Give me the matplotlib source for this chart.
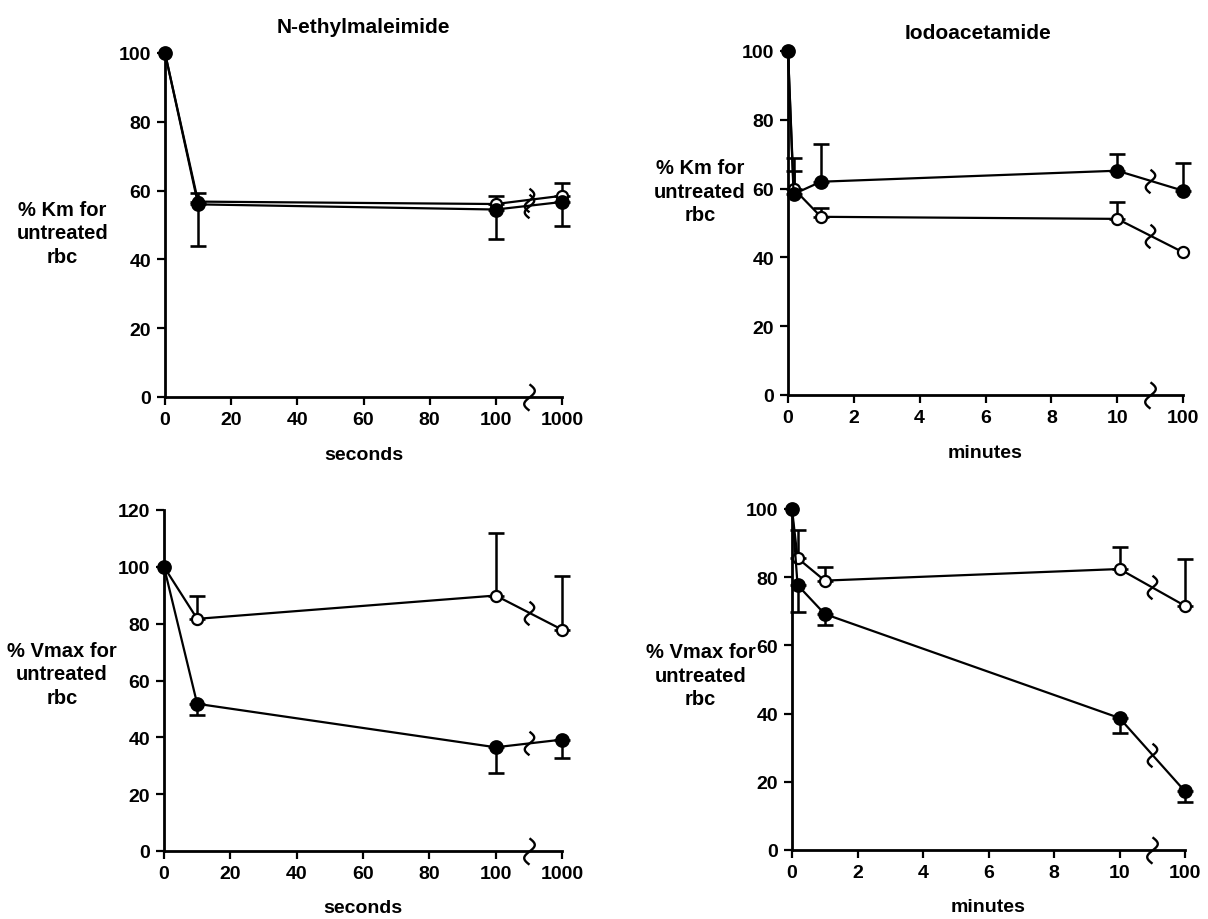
import numpy as np
import matplotlib
matplotlib.use("Agg")
import matplotlib.pyplot as plt
from matplotlib.path import Path

plt.rcParams['font.family'] = ['Liberation Sans', 'DejaVu Sans']
plt.rcParams['font.weight'] = 'bold'

# time points in real units; the last one sits past an axis break
sec_time = [0, 10, 100, 1000]
min_time = [0, 0.17, 1, 10, 100]

# N-ethylmaleimide, % Km (closed error bars go down, open go up)
nem_km_closed = [100, 56.0, 54.5, 56.7]
nem_km_closed_err = [0, 12.0, 8.5, 7.0]
nem_km_open = [100, 56.8, 56.1, 58.5]
nem_km_open_err = [0, 2.5, 2.3, 3.7]

# Iodoacetamide, % Km (both error bars go up)
ia_km_closed = [100, 58.4, 62.0, 65.2, 59.4]
ia_km_closed_err = [0, 6.6, 11.0, 4.8, 8.1]
ia_km_open = [100, 60.0, 51.8, 51.2, 41.5]
ia_km_open_err = [0, 9.0, 2.6, 5.0, 0]

# N-ethylmaleimide, % Vmax
nem_vm_closed = [100, 51.8, 36.5, 39.2]
nem_vm_closed_err = [0, 3.8, 9.2, 6.6]
nem_vm_open = [100, 81.7, 89.9, 77.9]
nem_vm_open_err = [0, 8.2, 21.9, 18.8]

# Iodoacetamide, % Vmax
ia_vm_closed = [100, 77.7, 69.2, 38.7, 17.2]
ia_vm_closed_err = [0, 8.0, 3.1, 4.4, 3.2]
ia_vm_open = [100, 85.6, 79.0, 82.4, 71.6]
ia_vm_open_err = [0, 8.1, 3.9, 6.4, 13.7]

sec_ticks = [0, 20, 40, 60, 80, 100, 120]
sec_ticklabels = ['0', '20', '40', '60', '80', '100', '1000']
min_ticks = [0, 2, 4, 6, 8, 10, 12]
min_ticklabels = ['0', '2', '4', '6', '8', '10', '100']

# squiggle used for the axis break marks
t = np.linspace(-1, 1, 40)
squig = Path(np.column_stack([0.4 * np.sin(np.pi * t), t]))


def to_pos(times, cut, last_pos):
    # put everything past the break at the last tick position
    return [x if x <= cut else last_pos for x in times]


def draw_series(ax, x, y, err, up, filled, brk_x):
    y = np.asarray(y, float)
    err = np.asarray(err, float)
    x = np.asarray(x, float)
    m = err > 0
    if up:
        yerr = [np.zeros(m.sum()), err[m]]
    else:
        yerr = [err[m], np.zeros(m.sum())]
    ax.errorbar(x[m], y[m], yerr=yerr, fmt='none', ecolor='black',
                elinewidth=1.8, capsize=5.5, capthick=1.9, clip_on=False, zorder=2)
    ax.plot(x, y, '-o', color='black', lw=1.6, ms=9 if filled else 8,
            mfc='black' if filled else 'white', mec='black', mew=1.6,
            clip_on=False, zorder=3)
    # break mark on the last segment
    by = np.interp(brk_x, x[-2:], y[-2:])
    ax.plot([brk_x], [by], marker=squig, ms=17, mfc='none', mec='black',
            mew=1.7, ls='none', clip_on=False, zorder=4)


fig = plt.figure(figsize=(12.08, 9.2), dpi=100)
W, H = 1208, 920


def make_ax(x0, x1, y0, y1):
    return fig.add_axes([x0 / W, 1 - y0 / H, (x1 - x0) / W, (y0 - y1) / H])


panels = [
    dict(box=(165, 562, 398, 54), x=to_pos(sec_time, 100, 120), brk=110,
         ticks=sec_ticks, labels=sec_ticklabels, ymax=100,
         closed=(nem_km_closed, nem_km_closed_err, False),
         opened=(nem_km_open, nem_km_open_err, True),
         xlabel='seconds', ylabel='% Km for\nuntreated\nrbc', ylab=(-0.258, 0.478),
         title='N-ethylmaleimide', tpos=(0.5, 1.078)),
    dict(box=(788, 1183, 396, 52), x=to_pos(min_time, 10, 12), brk=11,
         ticks=min_ticks, labels=min_ticklabels, ymax=100,
         closed=(ia_km_closed, ia_km_closed_err, True),
         opened=(ia_km_open, ia_km_open_err, True),
         xlabel='minutes', ylabel='% Km for\nuntreated\nrbc', ylab=(-0.223, 0.593),
         title='Iodoacetamide', tpos=(0.48, 1.055)),
    dict(box=(164, 562, 852, 511), x=to_pos(sec_time, 100, 120), brk=110,
         ticks=sec_ticks, labels=sec_ticklabels, ymax=120,
         closed=(nem_vm_closed, nem_vm_closed_err, False),
         opened=(nem_vm_open, nem_vm_open_err, True),
         xlabel='seconds', ylabel='% Vmax for\nuntreated\nrbc', ylab=(-0.256, 0.52),
         title=None, tpos=None),
    dict(box=(792, 1185, 851, 510), x=to_pos(min_time, 10, 12), brk=11,
         ticks=min_ticks, labels=min_ticklabels, ymax=100,
         closed=(ia_vm_closed, ia_vm_closed_err, False),
         opened=(ia_vm_open, ia_vm_open_err, True),
         xlabel='minutes', ylabel='% Vmax for\nuntreated\nrbc', ylab=(-0.233, 0.513),
         title=None, tpos=None),
]

for p in panels:
    ax = make_ax(*p['box'])
    xmax = p['ticks'][-1]
    ax.set_xlim(0, xmax)
    ax.set_ylim(0, p['ymax'])
    ax.set_xticks(p['ticks'])
    ax.set_xticklabels(p['labels'])
    ax.set_yticks(np.arange(0, p['ymax'] + 1, 20))
    for s in ['top', 'right']:
        ax.spines[s].set_visible(False)
    for s in ['left', 'bottom']:
        ax.spines[s].set_linewidth(2.0)
    ax.tick_params(direction='out', length=6, width=1.6, labelsize=14, pad=4)

    draw_series(ax, p['x'], *p['opened'][:2], p['opened'][2], False, p['brk'])
    draw_series(ax, p['x'], *p['closed'][:2], p['closed'][2], True, p['brk'])
    # break mark on the x axis
    ax.plot([p['brk']], [0], marker=squig, ms=19, mfc='none', mec='black',
            mew=1.7, ls='none', clip_on=False, zorder=4)

    ax.set_xlabel(p['xlabel'], fontsize=14, fontweight='bold')
    ax.xaxis.set_label_coords(0.5, -0.166)
    ax.xaxis.label.set_va('center')
    ax.text(p['ylab'][0], p['ylab'][1], p['ylabel'], transform=ax.transAxes,
            ha='center', va='center', fontsize=14.5, fontweight='bold',
            linespacing=1.3)
    if p['title']:
        ax.text(p['tpos'][0], p['tpos'][1], p['title'], transform=ax.transAxes,
                ha='center', va='center', fontsize=15, fontweight='bold')

fig.savefig('out.png', dpi=100)
